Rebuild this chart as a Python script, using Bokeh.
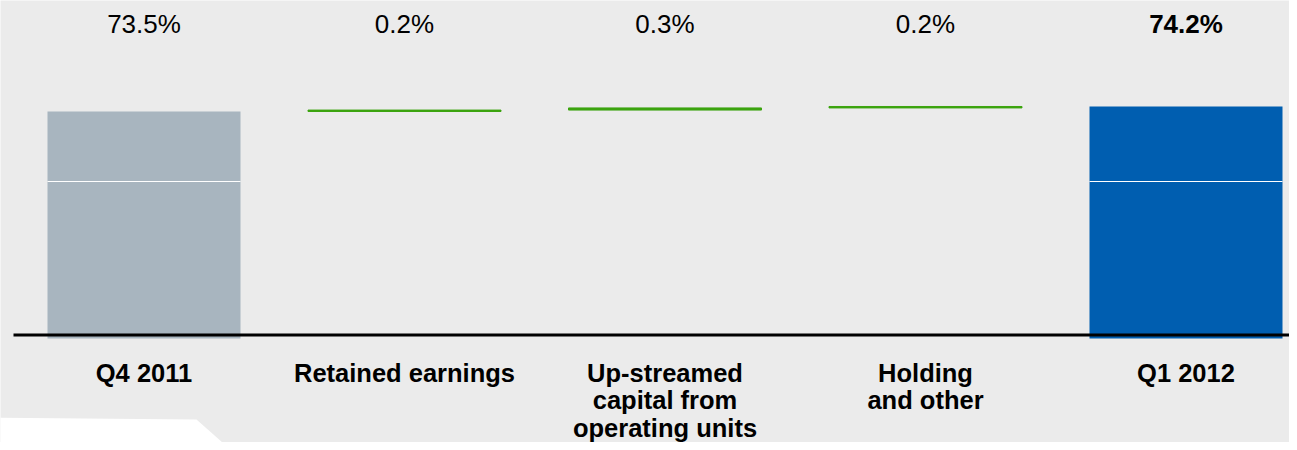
from bokeh.plotting import figure
from bokeh.models import PolyAnnotation
from bokeh.core.properties import value
from bokeh.embed import file_html
from bokeh.resources import INLINE

# ---- data ----
categories = ["Q4 2011", "Retained earnings", "Up-streamed\ncapital from\noperating units", "Holding\nand other", "Q1 2012"]
values = [73.5, 0.2, 0.3, 0.2, 74.2]
kinds = ["total", "delta", "delta", "delta", "total"]
value_labels = ["73.5%", "0.2%", "0.3%", "0.2%", "74.2%"]

# ---- layout helpers (pixel calibration of the reference) ----
W, H = 1289, 442
PX_PER_X = 260.5          # px between category centres
X0_PX = 143.5             # canvas px of first category centre
PX_PER_PCT = 7.143        # px per percentage point
TOP_REF_PX = 111.0        # canvas px of the 73.5 level
BASE_VAL = 73.5

def xv(px):
    return (px - X0_PX) / PX_PER_X

def yv(py):
    return BASE_VAL + (TOP_REF_PX - py) / PX_PER_PCT

x_start, x_end = xv(0), xv(W)
y_end, y_start = yv(0), yv(H)
bar_base = yv(338)
axis_y = yv(334.5)
divider_y = yv(181)
bar_w = 193 / PX_PER_X

BG = "#ebebeb"
p = figure(width=W, height=H, x_range=(x_start, x_end), y_range=(y_start, y_end),
           x_axis_type=None, y_axis_type=None, toolbar_location=None,
           output_backend="svg", min_border=0, outline_line_color=None,
           background_fill_color=BG, border_fill_color=BG)
p.grid.visible = False

# white tab shape at bottom-left
p.add_layout(PolyAnnotation(xs=[xv(-20), xv(196), xv(231), xv(240), xv(-20)],
                            ys=[yv(417), yv(419), yv(450), yv(460), yv(460)],
                            fill_color="white", fill_alpha=1.0, line_color=None))

# waterfall computation
tot_x, tot_top, tot_col = [], [], []
d_x, d_bot, d_top = [], [], []
running = 0.0
for i, (k, v) in enumerate(zip(kinds, values)):
    if k == "total":
        tot_x.append(i); tot_top.append(v)
        tot_col.append("#a8b5bf" if i == 0 else "#005eb0")
        running = v
    else:
        d_x.append(i); d_bot.append(running); d_top.append(running + v)
        running += v

p.vbar(x=tot_x, top=tot_top, bottom=bar_base, width=bar_w,
       fill_color=tot_col, line_color=None)
p.vbar(x=d_x, top=d_top, bottom=d_bot, width=bar_w,
       fill_color="#3ca40f", line_color="#3ca40f", line_width=1)

# white divider line on total bars
p.segment(x0=[x - bar_w / 2 for x in tot_x], x1=[x + bar_w / 2 for x in tot_x],
          y0=divider_y, y1=divider_y, line_color="white", line_width=1.2)

# axis line
p.segment(x0=xv(13), x1=x_end, y0=axis_y, y1=axis_y, line_color="black", line_width=3)

# value labels on top
lab_y = yv(23)
reg = [i for i in range(len(values)) if kinds[i] == "delta" or i == 0]
bold = [i for i in range(len(values)) if i not in reg]
p.text(x=reg, y=lab_y, text=[value_labels[i] for i in reg], text_align="center",
       text_baseline="middle", text_font=value("Liberation Sans"),
       text_font_size="26px", text_color="black")
p.text(x=bold, y=lab_y, text=[value_labels[i] for i in bold], text_align="center",
       text_baseline="middle", text_font=value("Liberation Sans"),
       text_font_size="26px", text_font_style="bold", text_color="black")

# category labels (one row per text line)
lx, ly, lt = [], [], []
for i, c in enumerate(categories):
    for k, line in enumerate(c.split("\n")):
        lx.append(i); ly.append(yv(372 + 27.5 * k)); lt.append(line)
p.text(x=lx, y=ly, text=lt, text_align="center", text_baseline="middle",
       text_font=value("Liberation Sans"), text_font_size="25.5px",
       text_font_style="bold", text_color="black")

open("out.html", "w").write(file_html(p, INLINE))
